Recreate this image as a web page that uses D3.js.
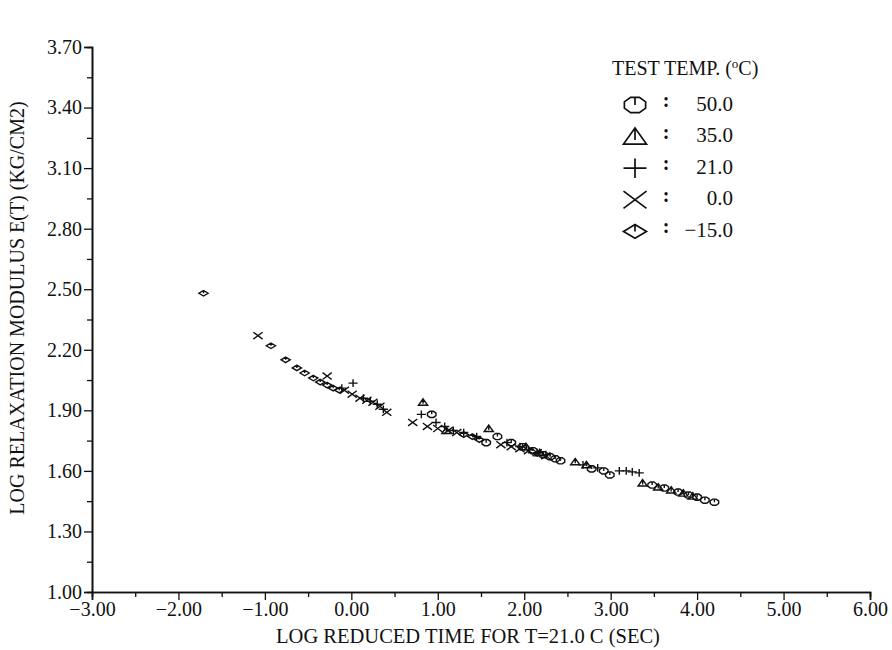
<!DOCTYPE html>
<html>
<head>
<meta charset="utf-8">
<script src="https://cdn.jsdelivr.net/npm/d3@7"></script>
<style>
  body { margin: 0; background: #fff; }
  text { font-family: "Liberation Serif", "DejaVu Serif", serif; fill: #111; }
</style>
</head>
<body>
<svg id="chart" width="892" height="650"></svg>
<script>
// series labels (test temperature, deg C)
const temps = ["50.0", "35.0", "21.0", "0.0", "\u221215.0"];
const shapes = ["octagon", "triangle", "plus", "cross", "diamond"];

// [log reduced time, log E(t)]
const pts50 = [
  [0.93, 1.88], [1.56, 1.74], [1.69, 1.77], [1.85, 1.74], [1.98, 1.72], [2.10, 1.70],
  [2.22, 1.68], [2.30, 1.67], [2.36, 1.66], [2.42, 1.65], [2.78, 1.61], [2.92, 1.60],
  [2.99, 1.58], [3.48, 1.53], [3.62, 1.515], [3.78, 1.495], [3.90, 1.48], [4.00, 1.47],
  [4.09, 1.455], [4.20, 1.445]
];
const pts35 = [
  [0.83, 1.94], [1.10, 1.80], [1.59, 1.81], [2.02, 1.72], [2.18, 1.69], [2.59, 1.645],
  [2.72, 1.63], [3.37, 1.54], [3.55, 1.52], [3.70, 1.505], [3.84, 1.49], [3.95, 1.475]
];
const pts21 = [
  [0.02, 2.035], [-0.11, 2.01], [0.14, 1.96], [0.22, 1.945], [0.30, 1.93], [0.37, 1.905],
  [0.81, 1.88], [0.98, 1.84], [1.08, 1.82], [1.18, 1.80], [1.30, 1.79], [1.45, 1.77],
  [1.80, 1.74], [1.95, 1.72], [2.05, 1.705], [2.15, 1.69], [2.25, 1.68], [2.68, 1.63],
  [2.85, 1.615], [3.10, 1.60], [3.18, 1.60], [3.25, 1.595], [3.33, 1.59]
];
const pts0 = [
  [-1.08, 2.27], [-0.28, 2.07], [-0.08, 2.00], [0.01, 1.98], [0.10, 1.96], [0.18, 1.95],
  [0.25, 1.94], [0.33, 1.92], [0.41, 1.89], [0.71, 1.84], [0.88, 1.82], [1.00, 1.81],
  [1.12, 1.80], [1.22, 1.79], [1.73, 1.73], [1.85, 1.72], [1.95, 1.71], [2.05, 1.70],
  [2.15, 1.69], [2.25, 1.675]
];
const ptsM15 = [
  [-1.71, 2.48], [-0.93, 2.22], [-0.76, 2.15], [-0.63, 2.11], [-0.54, 2.085], [-0.44, 2.06],
  [-0.36, 2.04], [-0.28, 2.025], [-0.21, 2.01], [-0.14, 2.00], [1.30, 1.78], [1.40, 1.77],
  [1.48, 1.755]
];
const allSeries = [pts50, pts35, pts21, pts0, ptsM15];

const xTicks = [-3, -2, -1, 0, 1, 2, 3, 4, 5, 6];
const yTicks = [1.0, 1.3, 1.6, 1.9, 2.2, 2.5, 2.8, 3.1, 3.4, 3.7];

const svg = d3.select("#chart");
const x = d3.scaleLinear().domain([-3, 6]).range([92, 870]);
const y = d3.scaleLinear().domain([1.0, 3.7]).range([592, 47]);

// marker path, centred on 0,0, r = half width
function symbolPath(kind, r) {
  const p = d3.path();
  if (kind === "octagon") {
    for (let i = 0; i < 8; i++) {
      const a = Math.PI / 8 + i * Math.PI / 4;
      const px = r * Math.cos(a), py = r * 0.72 * Math.sin(a);
      i === 0 ? p.moveTo(px, py) : p.lineTo(px, py);
    }
    p.closePath();
    p.moveTo(0, -r * 0.72 * Math.sin(3 * Math.PI / 8)); p.lineTo(0, 0);
  } else if (kind === "triangle") {
    p.moveTo(0, -r * 0.75); p.lineTo(r, r * 0.65); p.lineTo(-r, r * 0.65); p.closePath();
    p.moveTo(0, -r * 0.75); p.lineTo(0, r * 0.3);
  } else if (kind === "plus") {
    p.moveTo(-r, 0); p.lineTo(r, 0);
    p.moveTo(0, -r * 0.85); p.lineTo(0, r * 0.85);
  } else if (kind === "cross") {
    p.moveTo(-r, -r * 0.75); p.lineTo(r, r * 0.75);
    p.moveTo(-r, r * 0.75); p.lineTo(r, -r * 0.75);
  } else {
    p.moveTo(0, -r * 0.6); p.lineTo(r, 0); p.lineTo(0, r * 0.6); p.lineTo(-r, 0); p.closePath();
    p.moveTo(0, -r * 0.6); p.lineTo(0, 0);
  }
  return p.toString();
}

// axes
svg.append("g").attr("transform", "translate(0,592)")
  .call(d3.axisBottom(x).tickValues(xTicks).tickSize(8).tickPadding(2).tickFormat(d3.format(".2f")));
svg.append("g").attr("transform", "translate(0,592)")
  .call(d3.axisBottom(x).tickValues(d3.range(-2.5, 6, 1)).tickSize(5).tickFormat(""));
svg.append("g").attr("transform", "translate(92,0)")
  .call(d3.axisLeft(y).tickValues(yTicks).tickSize(8).tickPadding(2).tickFormat(d3.format(".2f")));
svg.append("g").attr("transform", "translate(92,0)")
  .call(d3.axisLeft(y).tickValues(d3.range(1.15, 3.7, 0.3)).tickSize(5).tickFormat(""));

svg.selectAll(".domain").attr("stroke", "#111").attr("stroke-width", 1.6);
svg.selectAll(".tick line").attr("stroke", "#111").attr("stroke-width", 1.3);
svg.selectAll(".tick text").style("font-size", "20px").style("font-family", "Liberation Serif");

svg.append("text").attr("x", 468).attr("y", 643).attr("text-anchor", "middle")
  .style("font-size", "20.5px").text("LOG REDUCED TIME FOR T=21.0 C (SEC)");
svg.append("text").attr("transform", "translate(24,308) rotate(-90)")
  .attr("text-anchor", "middle").style("font-size", "20px")
  .text("LOG RELAXATION MODULUS E(T) (KG/CM2)");

// data markers
allSeries.forEach((pts, i) => {
  svg.append("g").selectAll("path").data(pts).join("path")
    .attr("transform", d => "translate(" + x(d[0]) + "," + y(d[1]) + ")")
    .attr("d", symbolPath(shapes[i], 4.6))
    .attr("fill", "none").attr("stroke", "#111").attr("stroke-width", 1.4);
});

// legend
const leg = svg.append("g");
const title = leg.append("text").attr("x", 612).attr("y", 75).style("font-size", "20px");
title.append("tspan").text("TEST TEMP. (");
title.append("tspan").attr("dy", -7).style("font-size", "13px").text("o");
title.append("tspan").attr("dy", 7).text("C)");
temps.forEach((t, i) => {
  const cy = 105 + i * 31.6;
  leg.append("path").attr("transform", "translate(635," + cy + ")")
    .attr("d", symbolPath(shapes[i], 11.5))
    .attr("fill", "none").attr("stroke", "#111").attr("stroke-width", 1.7);
  leg.append("text").attr("x", 666).attr("y", cy + 2).attr("text-anchor", "middle")
    .style("font-size", "20px").style("font-weight", "bold").text(":");
  leg.append("text").attr("x", 733).attr("y", cy + 5.5).attr("text-anchor", "end")
    .style("font-size", "21px").text(t);
});
</script>
</body>
</html>
